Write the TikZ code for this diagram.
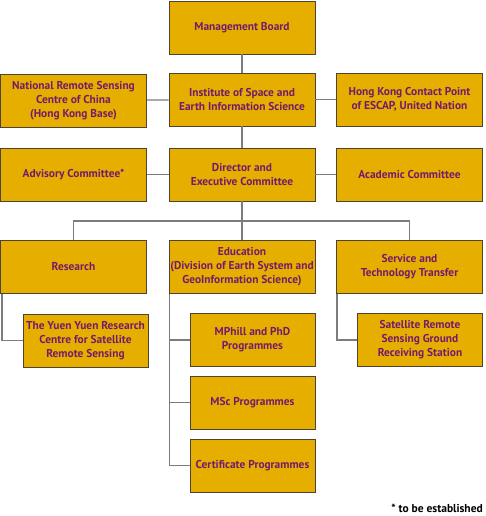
\documentclass[tikz,border=0pt]{standalone}
\usepackage{fontspec}
\setmainfont{PT Sans}
\usetikzlibrary{positioning}
\definecolor{gold}{HTML}{E6AF00}
\definecolor{plum}{HTML}{731B6C}
\definecolor{rim}{HTML}{4E4232}
\definecolor{wire}{HTML}{7C7C7C}

\begin{document}
\begin{tikzpicture}[x=1pt,y=-1pt,
unit/.style={draw=rim,fill=gold,line width=0.9pt,align=center,text=plum,font=\bfseries\fontsize{11.4}{14}\selectfont,minimum width=146pt,minimum height=53pt,inner sep=1pt},
subunit/.style={unit,minimum width=125pt},
link/.style={wire,line width=1.3pt}]

\useasboundingbox (0,0) rectangle (485,516);

% top levels
\node[unit] (mb) at (242,27.5){Management Board};
\node[unit] (inst) at (242,99.5){Institute of Space and\\Earth Information Science};
\node[unit] (nrsc) at (73.5,100.5){National Remote Sensing\\Centre of China\\(Hong Kong Base)};
\node[unit] (hk) at (409.5,99.5){Hong Kong Contact Point\\of ESCAP, United Nation};
\node[unit] (adv) at (73.5,174.5){Advisory Committee*};
\node[unit] (dir) at (242,174.5){Director and\\Executive Committee};
\node[unit] (acad) at (409.5,174.5){Academic Committee};

% divisions
\node[unit] (res) at (73.5,267){Research};
\node[unit] (edu) at (242,267){Education\\(Division of Earth System and\\GeoInformation Science)};
\node[unit] (serv) at (409.5,267){Service and\\Technology Transfer};

\node[subunit] (yy) at (85.5,340.5){The Yuen Yuen Research\\Centre for Satellite\\Remote Sensing};
\node[subunit] (mphil) at (252.5,340){MPhill and PhD\\Programmes};
\node[subunit] (msc) at (252.5,402.5){MSc Programmes};
\node[subunit] (cert) at (252.5,465.5){Certificate Programmes};
\node[subunit] (sat) at (420,340){Satellite Remote\\Sensing Ground\\Receiving Station};

\coordinate (bus) at (242,221);

\draw[link] (mb)--(inst);
\draw[link] (inst)--(dir);
\draw[link] (nrsc)--(inst);
\draw[link] (hk)--(inst);
\draw[link] (adv)--(dir);
\draw[link] (acad)--(dir);
\draw[link] (dir)--(bus);
\draw[link] (bus) -| (res);
\draw[link] (bus) -| (serv);
\draw[link] (bus)--(edu);
\draw[link] ([xshift=2pt]res.south west) |- (yy.west);
\draw[link] ([xshift=1pt]edu.south west) |- (mphil.west);
\draw[link] ([xshift=1pt]edu.south west) |- (msc.west);
\draw[link] ([xshift=1pt]edu.south west) |- (cert.west);
\draw[link] ([xshift=1pt]serv.south west) |- (sat.west);

\node[anchor=east,font=\bfseries\fontsize{11.5}{13}\selectfont,inner sep=1pt] (note) at (484,508){* to be established};
\end{tikzpicture}
\end{document}
